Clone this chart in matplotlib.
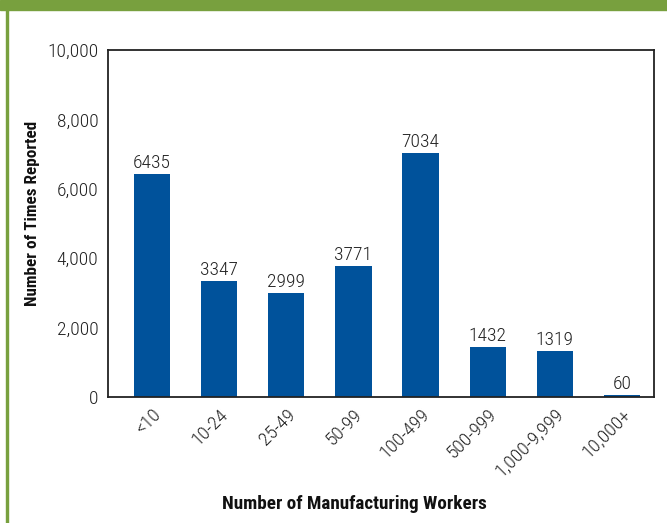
import matplotlib
matplotlib.use("Agg")
import matplotlib.pyplot as plt
from matplotlib.patches import Rectangle

categories = ["<10", "10-24", "25-49", "50-99", "100-499", "500-999", "1,000-9,999", "10,000+"]
counts = [6435, 3347, 2999, 3771, 7034, 1432, 1319, 60]
yticks = [0, 2000, 4000, 6000, 8000, 10000]

W, H = 667, 523
fig = plt.figure(figsize=(W / 100, H / 100), dpi=100)
plt.rcParams['font.family'] = ['Roboto Condensed', 'DejaVu Sans']
plt.rcParams['font.weight'] = 300

green = "#78a03e"
blue = "#00529b"
ink = "#222222"

# green frame: thick top band and a thin line down the left
fig.patches.append(Rectangle((0, 1 - 10 / H), 1, 10 / H, transform=fig.transFigure,
                             color=green, zorder=0))
fig.patches.append(Rectangle((6 / W, 0), 2 / W, 1, transform=fig.transFigure,
                             color=green, zorder=0))

left, right, top, bottom = 108, 654, 50, 397
ax = fig.add_axes([left / W, 1 - bottom / H, (right - left) / W, (bottom - top) / H])

x = range(len(categories))
bars = ax.bar(x, counts, width=0.54, color=blue)
for b, v in zip(bars, counts):
    ax.text(b.get_x() + b.get_width() / 2, v + 170, str(v), ha="center", va="baseline",
            fontsize=14, color=ink)

ax.set_xlim(-0.656, 7.477)
ax.set_ylim(0, 10000)
ax.set_yticks(yticks)
ax.set_yticklabels([f"{t:,}" for t in yticks], fontsize=14, color=ink)
ax.set_xticks(list(x))
ax.set_xticklabels(categories, rotation=45, ha="right", va="top", fontsize=14,
                   color=ink, rotation_mode="anchor")
ax.tick_params(length=0)
ax.tick_params(axis="y", pad=7)
ax.tick_params(axis="x", pad=6)
for s in ax.spines.values():
    s.set_linewidth(1.3)
    s.set_color(ink)

fig.text(354 / W, 1 - 504 / H, "Number of Manufacturing Workers", ha="center", va="center",
         fontsize=13.8, fontweight="bold", color="#111111")
fig.text(33 / W, 1 - 213 / H, "Number of Times Reported", ha="center", va="center",
         rotation=90, fontsize=12.3, fontweight="bold", color="#111111")

plt.savefig("out.png", dpi=100)
